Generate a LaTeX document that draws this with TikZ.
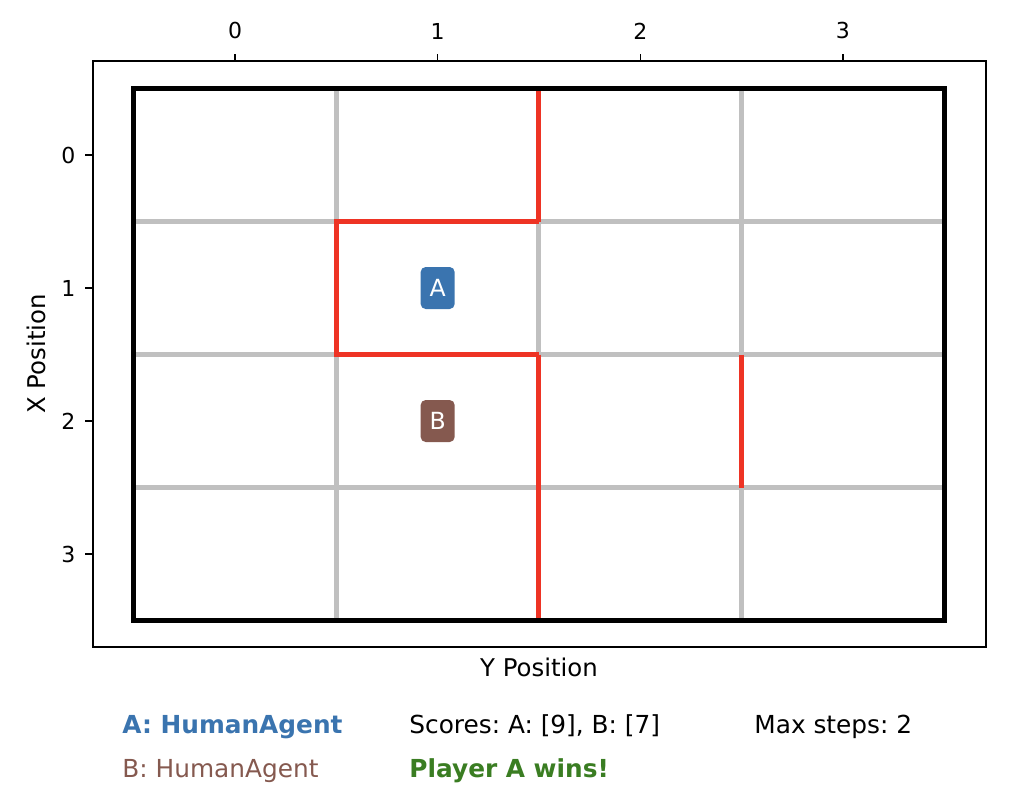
\documentclass[tikz,border=0pt]{standalone}
\usepackage{fontspec}
\setmainfont{DejaVu Sans}
\usetikzlibrary{positioning}
\definecolor{AgentBlue}{HTML}{3A74AF}
\definecolor{AgentBrown}{HTML}{85594F}
\definecolor{WinGreen}{HTML}{3A7D22}
\definecolor{WallRed}{HTML}{EE3324}
\definecolor{GridGray}{HTML}{C0C0C0}
\frenchspacing

\begin{document}
\begin{tikzpicture}[x=.5pt,y=-.5pt,
  ticklab/.style={font=\fontsize{11}{13}\selectfont,inner sep=0pt},
  axlab/.style={font=\fontsize{12.2}{14}\selectfont,inner sep=0pt},
  info/.style={font=\fontsize{12.4}{15}\selectfont,inner sep=0pt,anchor=base west},
  agent/.style={rounded corners=2.5pt,minimum width=17pt,minimum height=21pt,
    inner sep=0pt,text=white,font=\fontsize{11.8}{13}\selectfont},
  gridline/.style={GridGray,line width=2.5pt},
  wall/.style={WallRed,line width=2.5pt}]
\useasboundingbox (0,0) rectangle (1022,788);
% axes frame
\draw[line width=.7pt] (93,61) rectangle (986,647);
\begin{scope}[xshift=117.5pt,yshift=-77.5pt,x=101.33pt,y=-66.5pt]
\foreach \i in {0,...,3} {
  \draw[line width=.7pt] (\i,-.7) -- ++(0,4pt) node[above=7pt,ticklab] (xt\i) {\i};
  \draw[line width=.7pt] (-.7,\i) -- ++(-4pt,0) node[left=4.5pt,ticklab] (yt\i) {\i};
}
% board
\foreach \k in {0.5,1.5,2.5} {
  \draw[gridline] (\k,-.5) -- (\k,3.5);
  \draw[gridline] (-.5,\k) -- (3.5,\k);
}
\draw[wall] (1.5,-.5) -- (1.5,.5);
\draw[wall] (1.5,.5) -- (.5,.5) -- (.5,1.5) -- (1.5,1.5);
\draw[wall] (1.5,1.5) -- (1.5,3.5);
\draw[wall] (2.5,1.5) -- (2.5,2.5);
\draw[line width=2.5pt] (-.5,-.5) rectangle (3.5,3.5);
\node[agent,fill=AgentBlue] (agA) at (1,1) {A};
\node[agent,fill=AgentBrown] (agB) at (1,2) {B};
\end{scope}
\node[axlab] (ylab) at (539,667) {Y Position};
\node[axlab,rotate=90] (xlab) at (36,354) {X Position};
% legend lines
\node[info,text=AgentBlue,font=\fontsize{12.4}{15}\selectfont\bfseries] (nameA) at (122,733) {A: HumanAgent};
\node[info] (scores) at (409,733) {Scores: A: [9], B: [7]};
\node[info] (steps) at (754,733) {Max steps: 2};
\node[info,text=AgentBrown] (nameB) at (122,777) {B: HumanAgent};
\node[info,text=WinGreen,font=\fontsize{12.4}{15}\selectfont\bfseries] (result) at (409,777) {Player A wins!};
\end{tikzpicture}
\end{document}
